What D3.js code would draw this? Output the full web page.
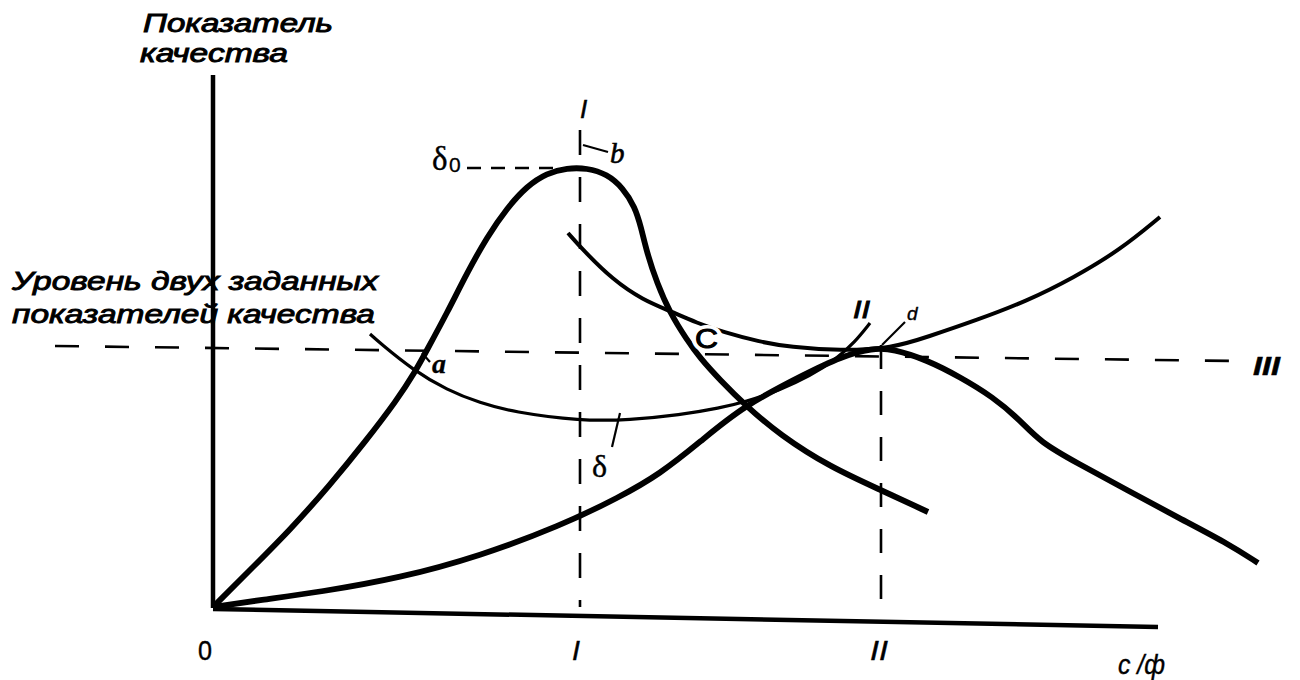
<!DOCTYPE html>
<html><head><meta charset="utf-8">
<script src="https://cdn.jsdelivr.net/npm/d3@7"></script>
<style>body{margin:0;background:#fff}svg{display:block}</style>
</head><body>
<svg id="c" width="1300" height="680"></svg>
<script>
// ---- data (arbitrary units) ----
const curveI = [[0,0],[0.37,0.37],[0.77,0.77],[1.17,1.22],[1.52,1.65],[1.84,2.07],[2.02,2.35],[2.14,2.57],[2.34,2.94],[2.54,3.34],[2.74,3.70],[2.94,3.99],[3.14,4.21],[3.34,4.34],[3.54,4.39],[3.74,4.39],[3.94,4.33],[4.10,4.19],[4.22,4.00],[4.28,3.80],[4.34,3.54],[4.44,3.24],[4.57,2.94],[4.74,2.67],[4.87,2.49],[5.07,2.27],[5.32,2.02],[5.67,1.72],[6.17,1.40],[6.70,1.16],[7.15,0.95]];
const curveII = [[0,0],[0.47,0.07],[1.07,0.15],[1.87,0.29],[2.67,0.51],[3.47,0.81],[4.07,1.10],[4.47,1.33],[4.87,1.65],[5.30,2.01],[5.94,2.34],[6.27,2.50],[6.60,2.59],[6.80,2.58],[7.14,2.47],[7.47,2.30],[7.80,2.10],[8.07,1.87],[8.27,1.65],[8.64,1.44],[9.14,1.17],[9.64,0.90],[10.14,0.64],[10.45,0.44]];
const curveDelta = [[1.57,2.73],[1.67,2.64],[2.00,2.37],[2.34,2.17],[2.67,2.04],[3.00,1.95],[3.67,1.86],[4.17,1.87],[4.67,1.92],[5.07,1.99],[5.32,2.05],[5.67,2.17],[5.97,2.31],[6.22,2.47],[6.42,2.65],[6.57,2.84]];
const curveC = [[3.55,3.74],[3.70,3.57],[4.00,3.27],[4.30,3.07],[4.57,2.96],[4.84,2.84],[5.10,2.75],[5.47,2.65],[5.77,2.60],[6.27,2.56],[6.80,2.59],[7.14,2.70],[7.64,2.87],[8.14,3.06],[8.60,3.29],[9.07,3.57],[9.47,3.90]];
const levelIII = [[-1.58,2.61],[10.25,2.46]];
const delta0Level = 4.39;
const tickValues = [0, 3.67, 6.68];
const tickLabels = ["0", "I", "II"];
const yTitle = ["Показатель", "качества"];
const levelTitle = ["Уровень двух заданных", "показателей качества"];
const xTitle = "c /ф";

// ---- scales ----
const x = d3.scaleLinear().domain([0,10]).range([213,1213]);
const y = d3.scaleLinear().domain([0,6]).range([607,7]);
const svg = d3.select("#c");
const line = d3.line().x(d=>x(d[0])).y(d=>y(d[1])).curve(d3.curveBasis);
const straight = d3.line().x(d=>x(d[0])).y(d=>y(d[1]));

// axes
svg.append("path").attr("d", straight([[0,-0.01],[0,5.32]])).attr("stroke","#000").attr("stroke-width",4.5).attr("fill","none");
svg.append("path").attr("d", straight([[0,-0.02],[9.45,-0.20]])).attr("stroke","#000").attr("stroke-width",4.5).attr("fill","none");

// dashed reference lines
const dash = (pts, da, w) => svg.append("path").attr("d", straight(pts)).attr("stroke","#000")
  .attr("stroke-width", w).attr("fill","none").attr("stroke-dasharray", da);
dash(levelIII, "24,26", 2.6);
dash([[tickValues[1],4.77],[tickValues[1],0]], "25,22", 2.6);
dash([[tickValues[2],2.62],[tickValues[2],0]], "24,22", 2.6);
dash([[2.54,delta0Level],[3.45,delta0Level]], "14,10", 2.6);

// curves
const draw = (d, w) => svg.append("path").attr("d", line(d)).attr("stroke","#000")
  .attr("stroke-width", w).attr("fill","none").attr("stroke-linecap","butt").attr("stroke-linejoin","round");
draw(curveDelta, 3.2);
draw(curveC, 4);
draw(curveI, 5.8);
draw(curveII, 5.8);

// leader lines
[[[3.70,4.62],[3.95,4.55]],[[2.09,2.54],[2.17,2.45]],[[4.07,1.94],[3.99,1.60]],[[6.92,2.85],[6.69,2.62]]]
  .forEach(p => svg.append("path").attr("d", straight(p)).attr("stroke","#000").attr("stroke-width",2.2).attr("fill","none"));

// text helpers
const sans = "'Liberation Sans', Arial, sans-serif";
const serif = "'Liberation Serif', 'Times New Roman', serif";
function txt(t, dx, dy, o) {
  const e = svg.append("text").attr("x", x(dx)).attr("y", y(dy)).text(t)
    .attr("font-family", o.f || sans).attr("font-size", o.s || 26)
    .attr("font-style", o.i === false ? "normal" : "italic")
    .attr("font-weight", o.w || "normal").attr("fill","#000")
    .attr("stroke","#000").attr("stroke-width", o.sw == null ? 0.9 : o.sw);
  if (o.len) e.attr("textLength", o.len).attr("lengthAdjust","spacingAndGlyphs");
  if (o.a) e.attr("text-anchor", o.a);
  if (o.halo) e.attr("paint-order","stroke").attr("stroke","#fff").attr("stroke-width",8);
  return e;
}

txt(yTitle[0], -0.70, 5.75, {s:25, len:190});
txt(yTitle[1], -0.73, 5.45, {s:25, len:148});
txt(levelTitle[0], -2.01, 3.17, {s:26, len:366});
txt(levelTitle[1], -2.01, 2.84, {s:26, len:363});

// C label with a white gap in the curve
txt("C", 4.82, 2.59, {s:27, i:false, halo:true, len:23});
txt("C", 4.82, 2.59, {s:27, i:false, len:23});

txt("II", 6.40, 2.89, {s:24, len:17});
txt("d", 6.94, 2.87, {s:19, sw:0.4});
txt("b", 3.97, 4.44, {s:29, f:serif, sw:0.6});
txt("a", 2.19, 2.34, {s:28, f:serif, w:"bold", sw:0.3});
txt("δ", 3.79, 1.30, {s:32, f:serif, i:false, sw:0.4});
txt("δ", 2.19, 4.37, {s:33, f:serif, i:false, sw:0.4});
txt("0", 2.36, 4.35, {s:21, i:false, sw:0.3});
txt("III", 10.40, 2.32, {s:26, w:"bold", len:27, sw:0.5});
txt("I", 3.67, 4.89, {s:26, sw:0.5});

// tick labels
tickValues.forEach((v,i) => {
  const off = [-0.15, -0.08, -0.11][i];
  txt(tickLabels[i], v + off, -0.53, {s:27, i: i!==0, sw:0.4, len: [14,8,18][i]});
});
txt(xTitle, 9.05, -0.67, {s:27, sw:0.4, len:47});
</script>
</body></html>
